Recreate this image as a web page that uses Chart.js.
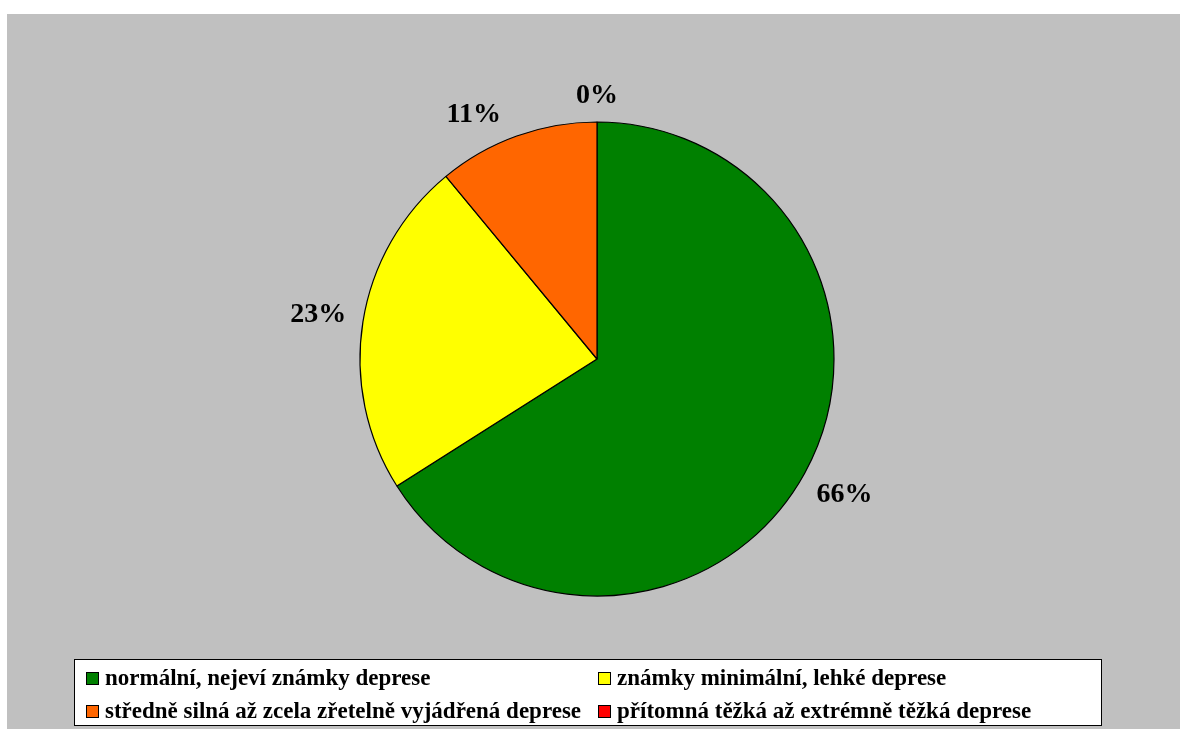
<!DOCTYPE html>
<html>
<head>
<meta charset="utf-8">
<script src="https://cdn.jsdelivr.net/npm/chart.js@4/dist/chart.umd.min.js"></script>
<style>
  html, body { margin: 0; padding: 0; background: #ffffff; }
  #wrap { width: 1180px; height: 729px; }
</style>
</head>
<body>
<div id="wrap"><canvas id="chart" width="1180" height="729"></canvas></div>
<script>
// Kategorie hodnocení deprese a jejich podíly (v %)
const categories = [
  'normální, nejeví známky deprese',
  'známky minimální, lehké deprese',
  'středně silná až zcela zřetelně vyjádřená deprese',
  'přítomná těžká až extrémně těžká deprese'
];
const values = [66, 23, 11, 0];
const sliceColors = ['#008000', '#FFFF00', '#FF6600', '#FF0000'];

const SERIF = '"Liberation Serif", "Times New Roman", Times, serif';

// Šedé pozadí plochy grafu
const backdrop = {
  id: 'backdrop',
  beforeDraw(chart) {
    const ctx = chart.ctx;
    ctx.save();
    ctx.fillStyle = '#ffffff';
    ctx.fillRect(0, 0, chart.width, chart.height);
    ctx.fillStyle = '#C0C0C0';
    ctx.fillRect(7, 14, chart.width - 7, chart.height - 14);
    ctx.restore();
  }
};

// Procentní popisky vně výsečí
const sliceLabels = {
  id: 'sliceLabels',
  afterDatasetsDraw(chart) {
    const ctx = chart.ctx;
    const meta = chart.getDatasetMeta(0);
    const data = chart.data.datasets[0].data;
    const total = data.reduce((a, b) => a + b, 0);
    const gap = 16;
    const textH = 20;
    ctx.save();
    ctx.font = 'bold 28px ' + SERIF;
    ctx.fillStyle = '#000000';
    ctx.textAlign = 'center';
    ctx.textBaseline = 'middle';

    // menší výseče se umisťují první, větší mají víc místa k posunu
    const order = data.map((v, i) => i).sort((a, b) => data[a] - data[b]);
    const placed = [];

    function boxAt(arc, angle, w) {
      const dx = Math.cos(angle), dy = Math.sin(angle);
      const target = arc.outerRadius + gap;
      let lo = 0, hi = arc.outerRadius * 3;
      for (let k = 0; k < 60; k++) {
        const t = (lo + hi) / 2;
        const cx = t * dx, cy = t * dy;
        const nx = Math.max(0, Math.abs(cx) - w / 2);
        const ny = Math.max(0, Math.abs(cy) - textH / 2);
        if (Math.hypot(nx, ny) < target) lo = t; else hi = t;
      }
      const t = (lo + hi) / 2;
      return { x: arc.x + t * dx, y: arc.y + t * dy, w: w, h: textH, angle: angle };
    }

    function clash(a, b) {
      const padX = 37, padY = 4;
      return Math.abs(a.x - b.x) < (a.w + b.w) / 2 + 2 * padX &&
             Math.abs(a.y - b.y) < (a.h + b.h) / 2 + 2 * padY;
    }

    order.forEach(i => {
      const arc = meta.data[i];
      const text = Math.round(data[i] / total * 100) + '%';
      const w = ctx.measureText(text).width;
      let angle = (arc.startAngle + arc.endAngle) / 2;
      let box = boxAt(arc, angle, w);
      let guard = 0;
      while (guard < 90) {
        const other = placed.find(p => clash(p, box));
        if (!other) break;
        angle += (angle < other.angle ? -1 : 1) * Math.PI / 360;
        box = boxAt(arc, angle, w);
        guard++;
      }
      placed.push(box);
      ctx.fillText(text, box.x, box.y);
    });
    ctx.restore();
  }
};

// Legenda ve dvou sloupcích pod grafem
const boxLegend = {
  id: 'boxLegend',
  afterDraw(chart) {
    const ctx = chart.ctx;
    const frame = { x: 74.5, y: 659.5, w: 1027, h: 66 };
    const colX = [86, 598];
    const rowBase = [685, 718];
    const sq = 13;
    ctx.save();
    ctx.fillStyle = '#ffffff';
    ctx.fillRect(frame.x, frame.y, frame.w, frame.h);
    ctx.strokeStyle = '#000000';
    ctx.lineWidth = 1;
    ctx.strokeRect(frame.x, frame.y, frame.w, frame.h);
    ctx.font = 'bold 23px ' + SERIF;
    ctx.textAlign = 'left';
    ctx.textBaseline = 'alphabetic';
    chart.data.labels.forEach((label, i) => {
      const x = colX[i % 2];
      const base = rowBase[Math.floor(i / 2)];
      ctx.fillStyle = chart.data.datasets[0].backgroundColor[i];
      ctx.fillRect(x + 0.5, base - sq + 0.5, sq - 1, sq - 1);
      ctx.strokeStyle = '#000000';
      ctx.strokeRect(x + 0.5, base - sq + 0.5, sq - 1, sq - 1);
      ctx.fillStyle = '#000000';
      ctx.fillText(label, x + sq + 6, base);
    });
    ctx.restore();
  }
};

new Chart(document.getElementById('chart'), {
  type: 'pie',
  data: {
    labels: categories,
    datasets: [{
      data: values,
      backgroundColor: sliceColors,
      borderColor: '#000000',
      borderWidth: 1.2
    }]
  },
  options: {
    responsive: false,
    animation: false,
    radius: 237,
    layout: { padding: { left: 100, right: 86, top: 122, bottom: 133 } },
    plugins: {
      legend: { display: false },
      tooltip: { enabled: false }
    }
  },
  plugins: [backdrop, sliceLabels, boxLegend]
});
</script>
</body>
</html>
